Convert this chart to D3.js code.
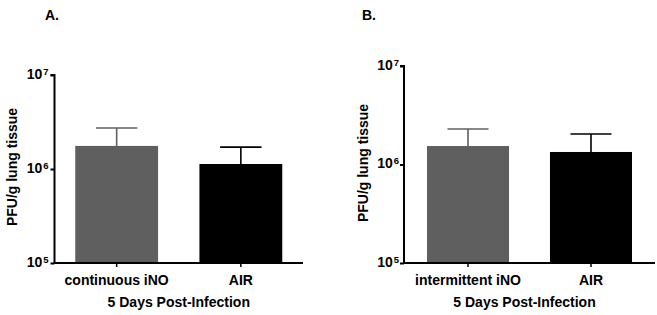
<!DOCTYPE html>
<html>
<head>
<meta charset="utf-8">
<script src="https://cdn.jsdelivr.net/npm/d3@7"></script>
<style>
  html, body { margin: 0; padding: 0; background: #fff; }
  svg { display: block; font-family: "Liberation Sans", Arial, sans-serif; font-weight: bold; }
</style>
</head>
<body>
<svg id="chart" width="657" height="315"></svg>
<script>
// ---- data ----
const panelLabels = ["A.", "B."];
const categoriesA = ["continuous iNO", "AIR"];
const meansA = [1.76e6, 1.13e6];
const upperA = [2.73e6, 1.71e6];   // top of error bar (mean + SEM)
const categoriesB = ["intermittent iNO", "AIR"];
const meansB = [1.54e6, 1.34e6];
const upperB = [2.29e6, 2.04e6];
const tickExponents = [5, 6, 7];
const yAxisLabel = "PFU/g lung tissue";
const xAxisTitle = "5 Days Post-Infection";
const barColors = ["#5f5f5f", "#000000"];

// ---- layout per panel ----
const layouts = [
  { x0: 54.5, x1: 303, yTop: 75, yBot: 263, padOuter: 0.167, labelX: 45, ylabX: 12, ylabY: 167, tickGap: 6, titleDx: 0 },
  { x0: 404, x1: 655, yTop: 66, yBot: 263, padOuter: 0.187, labelX: 362, ylabX: 363, ylabY: 163, tickGap: 5, titleDx: -5 }
];
const panels = [
  { label: panelLabels[0], cats: categoriesA, means: meansA, upper: upperA },
  { label: panelLabels[1], cats: categoriesB, means: meansB, upper: upperB }
];

const svg = d3.select("#chart");

panels.forEach((p, i) => {
  const L = layouts[i];
  const g = svg.append("g");

  const y = d3.scaleLog()
    .domain([Math.pow(10, tickExponents[0]), Math.pow(10, tickExponents[tickExponents.length - 1])])
    .range([L.yBot, L.yTop]);
  const x = d3.scaleBand()
    .domain(p.cats)
    .range([L.x0, L.x1])
    .paddingInner(0.333)
    .paddingOuter(L.padOuter);

  // bars
  g.selectAll("rect.bar").data(p.cats).enter().append("rect")
    .attr("class", "bar")
    .attr("x", d => x(d))
    .attr("width", x.bandwidth())
    .attr("y", (d, j) => y(p.means[j]))
    .attr("height", (d, j) => L.yBot - y(p.means[j]))
    .attr("fill", (d, j) => barColors[j]);

  // error bars (upper only)
  p.cats.forEach((c, j) => {
    const cx = x(c) + x.bandwidth() / 2;
    const capW = x.bandwidth() * 0.5;
    const col = barColors[j];
    g.append("line")
      .attr("x1", cx).attr("x2", cx)
      .attr("y1", y(p.means[j])).attr("y2", y(p.upper[j]))
      .attr("stroke", col).attr("stroke-width", 1.6);
    g.append("line")
      .attr("x1", cx - capW / 2).attr("x2", cx + capW / 2)
      .attr("y1", y(p.upper[j])).attr("y2", y(p.upper[j]))
      .attr("stroke", col).attr("stroke-width", 1.6);
  });

  // y axis
  const yAxis = d3.axisLeft(y)
    .tickValues(tickExponents.map(e => Math.pow(10, e)))
    .tickSize(4)
    .tickFormat("");
  const ya = g.append("g").attr("transform", `translate(${L.x0},0)`).call(yAxis);
  ya.select(".domain").attr("stroke", "#000").attr("stroke-width", 2)
    .attr("d", `M-4,${L.yTop}H0V${L.yBot}`);
  ya.selectAll(".tick line").attr("stroke", "#000").attr("stroke-width", 2);

  // y tick labels with superscripts
  tickExponents.forEach(e => {
    const t = g.append("text")
      .attr("x", L.x0 - L.tickGap)
      .attr("y", y(Math.pow(10, e)) + 3.5)
      .attr("text-anchor", "end")
      .attr("font-size", 14)
      .attr("fill", "#000");
    t.append("tspan").text("10");
    t.append("tspan").attr("dx", 1).attr("dy", -4).attr("font-size", 9.5).text(String(e));
  });

  // x axis
  const xAxis = d3.axisBottom(x).tickSize(4).tickSizeOuter(0);
  const xa = g.append("g").attr("transform", `translate(0,${L.yBot})`).call(xAxis);
  xa.select(".domain").attr("stroke", "#000").attr("stroke-width", 2)
    .attr("d", `M${L.x0 - 1},0H${L.x1}`);
  xa.selectAll(".tick line").attr("stroke", "#000").attr("stroke-width", 1.5);
  xa.selectAll(".tick text")
    .attr("font-size", 14)
    .attr("font-weight", "bold")
    .attr("font-family", "Liberation Sans, Arial, sans-serif")
    .attr("fill", "#000")
    .attr("y", 12)
    .attr("dy", "0.71em");

  // x axis title
  const mid = (x(p.cats[0]) + x(p.cats[p.cats.length - 1]) + x.bandwidth()) / 2;
  g.append("text")
    .attr("x", mid + L.titleDx)
    .attr("y", 307)
    .attr("text-anchor", "middle")
    .attr("font-size", 14)
    .attr("fill", "#000")
    .text(xAxisTitle);

  // y axis label
  g.append("text")
    .attr("transform", `translate(${L.ylabX + 5},${L.ylabY}) rotate(-90)`)
    .attr("text-anchor", "middle")
    .attr("font-size", 14)
    .attr("fill", "#000")
    .text(yAxisLabel);

  // panel label
  g.append("text")
    .attr("x", L.labelX)
    .attr("y", 20)
    .attr("font-size", 14)
    .attr("fill", "#000")
    .text(p.label);
});
</script>
</body>
</html>
